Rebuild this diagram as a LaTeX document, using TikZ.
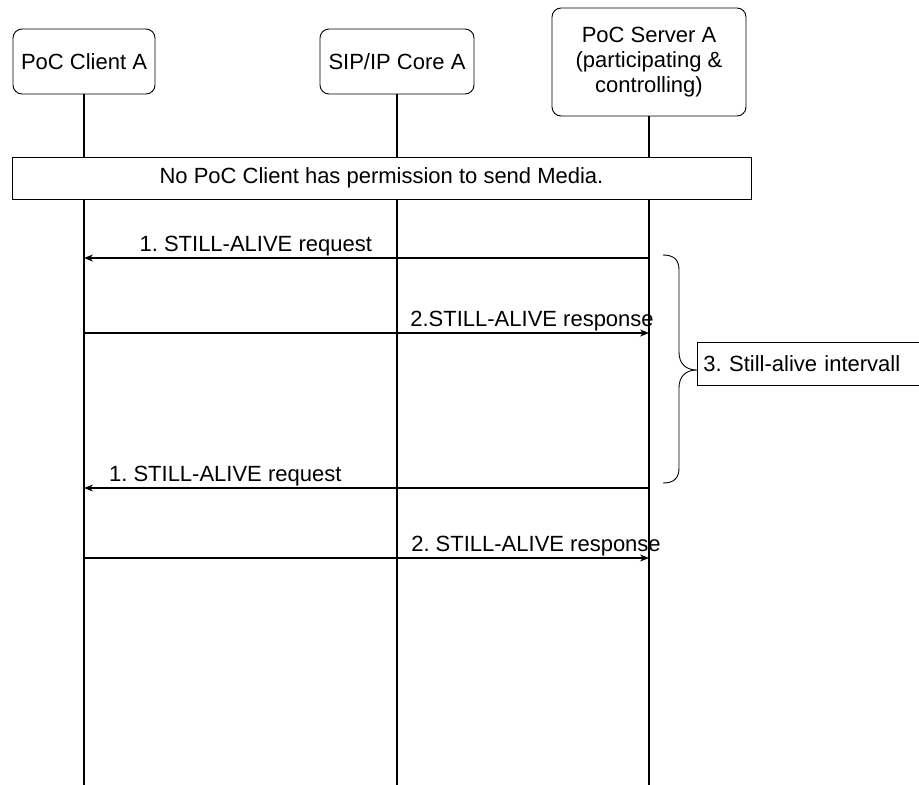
\documentclass[tikz,border=0pt]{standalone}
\usepackage{fontspec}
\setmainfont{Liberation Sans}
\usetikzlibrary{arrows.meta}
\frenchspacing

\begin{document}
\begin{tikzpicture}[
    x=1pt, y=-1pt,
    >={Stealth[length=9pt,width=7pt]},
    font=\fontsize{22}{25}\selectfont,
    entity/.style={
      draw,
      rounded corners=9pt,
      line width=0.9pt,
      align=center,
      inner sep=2pt
    },
    lifeline/.style={line width=1.3pt},
    message/.style={->, line width=1.3pt},
    msglabel/.style={above, inner sep=1.5pt},
    banner/.style={
      draw,
      fill=white,
      line width=0.9pt,
      minimum width=739pt,
      minimum height=42pt
    }
  ]
  \useasboundingbox (0,0) rectangle (919,785);
  \clip (0,0) rectangle (919,785);

  \node[entity, minimum width=142pt, minimum height=65pt] (client) at (84,61.5) {PoC Client A};
  \node[entity, minimum width=154pt, minimum height=65pt] (core) at (397,61.5) {SIP/IP Core A};
  \node[entity, minimum width=194pt, minimum height=108pt] (server) at (649,62)
    {PoC Server A\\(participating \&\\controlling)};

  \coordinate (clientEnd) at (client.south |- 0,785);
  \coordinate (coreEnd) at (core.south |- 0,785);
  \coordinate (serverEnd) at (server.south |- 0,785);

  \draw[lifeline] (client) -- (clientEnd);
  \draw[lifeline] (core) -- (coreEnd);
  \draw[lifeline] (server) -- (serverEnd);

  \node[banner] (media) at (381.5,178) {No PoC Client has permission to send Media.};

  \coordinate (s1) at (server |- 0,258);
  \coordinate (c1) at (client |- 0,258);
  \coordinate (c2) at (client |- 0,333);
  \coordinate (s2) at (server |- 0,333);
  \coordinate (s3) at (server |- 0,488);
  \coordinate (c3) at (client |- 0,488);
  \coordinate (c4) at (client |- 0,558);
  \coordinate (s4) at (server |- 0,558);

  \draw[message] (s1) -- node[msglabel, pos=0.696] {1. STILL-ALIVE request} (c1);
  \draw[message] (c2) -- node[msglabel, pos=0.793] {2.STILL-ALIVE response} (s2);
  \draw[message] (s3) -- node[msglabel, pos=0.75] {1. STILL-ALIVE request} (c3);
  \draw[message] (c4) -- node[msglabel, pos=0.8] {2. STILL-ALIVE response} (s4);

  \draw[line width=0.9pt] (663,255) .. controls (674,255) and (679,260) .. (679,270)
    -- (679,352) .. controls (679,364) and (686,370) .. (697,370)
    .. controls (686,370) and (679,376) .. (679,388)
    -- (679,468) .. controls (679,478) and (674,483) .. (663,483);

  \node[draw, line width=0.9pt, anchor=west, text width=228pt, align=left, inner xsep=6pt,
    minimum height=43pt] (interval) at (697,363.5) {3. Still-alive intervall};
\end{tikzpicture}
\end{document}
